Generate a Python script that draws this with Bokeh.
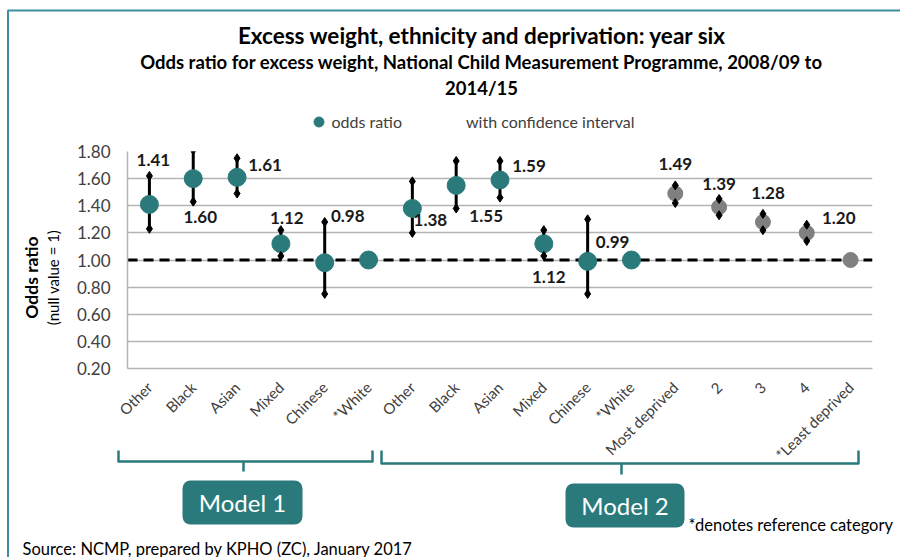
import math
import numpy as np
from bokeh.plotting import figure
from bokeh.models import (ColumnDataSource, Range1d, FixedTicker, NumeralTickFormatter,
                          Span, Label, BoxAnnotation, Legend, LegendItem, GridBox)
from bokeh.core.properties import value
from bokeh.embed import file_html
from bokeh.resources import INLINE

# ---------------- data ----------------
categories = ["Other", "Black", "Asian", "Mixed", "Chinese", "*White",
              "Other", "Black", "Asian", "Mixed", "Chinese", "*White",
              "Most deprived", "2", "3", "4", "*Least deprived"]
model = ["Model 1", "Model 1", "Model 1", "Model 1", "Model 1", "Model 1",
         "Model 2", "Model 2", "Model 2", "Model 2", "Model 2", "Model 2",
         "Model 2", "Model 2", "Model 2", "Model 2", "Model 2"]
variable = ["ethnicity"] * 12 + ["deprivation"] * 5
odds_ratio = [1.41, 1.60, 1.61, 1.12, 0.98, 1.00,
              1.38, 1.55, 1.59, 1.12, 0.99, 1.00,
              1.49, 1.39, 1.28, 1.20, 1.00]
ci_lower = [1.23, 1.43, 1.49, 1.03, 0.75, np.nan,
            1.20, 1.38, 1.46, 1.03, 0.75, np.nan,
            1.42, 1.33, 1.22, 1.14, np.nan]
ci_upper = [1.62, 1.81, 1.75, 1.22, 1.28, np.nan,
            1.58, 1.73, 1.73, 1.22, 1.30, np.nan,
            1.55, 1.45, 1.34, 1.26, np.nan]
y_ticks = [0.20, 0.40, 0.60, 0.80, 1.00, 1.20, 1.40, 1.60, 1.80]

# ---------------- styles ----------------
W, H = 900, 557
TEAL = "#2B7A7B"
GREY = "#808080"
BORDER = "#3D8DA2"
FONT = "Lato"
point_color = {"ethnicity": TEAL, "deprivation": GREY}
point_size = {"ethnicity": 18, "deprivation": 15}
# data-label placement (pixel offsets from the point centre)
label_dx = [4, 7, 28, 6, 23, 0, 18, 30, 29, 5, 25, 0, 0, 0, 5, 32, 0]
label_dy = [-44, 38, -12, -26, -47, 0, 12, 31, -14, 33, -19, 0, -30, -23, -29, -15, 0]

x = list(range(len(categories)))
src = ColumnDataSource(dict(
    x=x, y=odds_ratio, lo=ci_lower, hi=ci_upper, cat=categories, model=model,
    color=[point_color[v] for v in variable], size=[point_size[v] for v in variable],
))
has_ci = [not math.isnan(v) for v in ci_lower]
ci_src = ColumnDataSource(dict(
    x=[xi for xi, h in zip(x, has_ci) if h],
    y=[v for v, h in zip(odds_ratio, has_ci) if h],
    lo=[v for v, h in zip(ci_lower, has_ci) if h],
    hi=[v for v, h in zip(ci_upper, has_ci) if h],
    dx=[d for d, h in zip(label_dx, has_ci) if h],
    dy=[d for d, h in zip(label_dy, has_ci) if h],
    txt=["%.2f" % v for v, h in zip(odds_ratio, has_ci) if h],
))

# ================= chart figure =================
p = figure(width=W, height=H, output_backend="svg", toolbar_location=None,
           x_range=Range1d(-0.5, len(categories) - 0.5), y_range=Range1d(0.2, 1.8),
           min_border_left=127, min_border_right=W - 872, min_border_top=151,
           min_border_bottom=H - 368)
p.frame_align = False
p.outline_line_color = None
p.background_fill_color = "white"
p.border_fill_color = "white"

p.xgrid.grid_line_color = None
p.ygrid.grid_line_color = "#B4B4B4"
p.ygrid.grid_line_width = 1.5

p.yaxis.ticker = FixedTicker(ticks=y_ticks)
p.yaxis.formatter = NumeralTickFormatter(format="0.00")
p.yaxis.major_label_text_font = FONT
p.yaxis.major_label_text_font_size = "17px"
p.yaxis.major_label_text_color = "#404040"
p.yaxis.axis_line_color = "#B4B4B4"
p.yaxis.axis_line_width = 1.5
p.yaxis.major_tick_line_color = None
p.yaxis.minor_tick_line_color = None
p.yaxis.major_label_standoff = 11

p.xaxis.ticker = FixedTicker(ticks=x)
p.xaxis.major_label_overrides = {i: c for i, c in zip(x, categories)}
p.xaxis.major_label_orientation = math.pi / 4
p.xaxis.major_label_text_font = FONT
p.xaxis.major_label_text_font_size = "15px"
p.xaxis.major_label_text_color = "#404040"
p.xaxis.axis_line_color = "#B4B4B4"
p.xaxis.axis_line_width = 1.5
p.xaxis.major_tick_line_color = None
p.xaxis.minor_tick_line_color = None
p.xaxis.major_label_standoff = 10

ref = Span(location=1.0, dimension="width", line_color="black", line_width=3, line_dash="10 6")
ref.level = "underlay"
p.add_layout(ref)

p.segment(x0="x", y0="lo", x1="x", y1="hi", source=ci_src, line_color="black", line_width=3)
pts = p.scatter(x="x", y="y", source=src, size="size", fill_color="color", line_color="color")
p.scatter(x="x", y="hi", source=ci_src, marker="diamond", size=9, color="black")
p.scatter(x="x", y="lo", source=ci_src, marker="diamond", size=9, color="black")
p.text(x="x", y="y", text="txt", source=ci_src, x_offset="dx", y_offset="dy",
       text_align="center", text_baseline="middle", text_font=value(FONT),
       text_font_style="bold", text_font_size="17px", text_color="#1a1a1a")

# ================= decoration overlay (transparent, page pixel coordinates) =================
d = figure(width=W, height=H, output_backend="svg", toolbar_location=None,
           x_range=Range1d(0, W), y_range=Range1d(0, H), min_border=0,
           x_axis_location=None, y_axis_location=None)
d.frame_align = False
d.grid.visible = False
d.outline_line_color = None
d.background_fill_alpha = 0
d.border_fill_alpha = 0

def Y(py):
    return H - py

def lab(text, px, py, size, style="normal", align="center", color="black", angle=0):
    d.add_layout(Label(x=px, y=Y(py), text=text, text_font=FONT, text_font_size=size,
                       text_font_style=style, text_align=align, text_baseline="middle",
                       text_color=color, angle=angle))

lab("Excess weight, ethnicity and deprivation: year six", 482, 35, "22.5px", "bold")
lab("Odds ratio for excess weight, National Child Measurement Programme, 2008/09 to", 481, 61, "18.5px", "bold")
lab("2014/15", 481, 87, "18.5px", "bold")
lab("Odds ratio", 31, 277, "17.5px", "bold", angle=math.pi / 2)
lab("(null value = 1)", 52, 277, "15px", "normal", angle=math.pi / 2)
lab("*denotes reference category", 688, 524, "16.5px", align="left")
lab("Source: NCMP, prepared by KPHO (ZC), January 2017", 22, 548, "16.5px", align="left")

# legend (its marker source sits outside the visible range; only the legend swatch shows)
leg_pt = d.scatter(x=[-1000], y=[-1000], fill_color=TEAL, line_color=TEAL)
leg_ci = d.scatter(x=[-1000], y=[-1000], fill_alpha=0, line_alpha=0)
legend = Legend(items=[LegendItem(label="odds ratio", renderers=[leg_pt]),
                       LegendItem(label="with confidence interval", renderers=[leg_ci])],
                location=(305.5, Y(133.5)), orientation="horizontal", glyph_width=25,
                glyph_height=25, label_standoff=1, spacing=38, padding=0, margin=0,
                border_line_color=None, background_fill_alpha=0, label_text_font=FONT,
                label_text_font_size="16px", label_text_color="#404040")
d.add_layout(legend)

# brackets under the category groups
br_x, br_y = [], []
for (l, r, c, h, t) in [(118, 372, 243, 461, 471), (381, 858, 621, 463, 474)]:
    br_x += [[l, l, r, r], [c, c]]
    br_y += [[Y(450), Y(h), Y(h), Y(450)], [Y(h), Y(t)]]
d.multi_line(xs=br_x, ys=br_y, line_color=TEAL, line_width=2.5, line_join="round")

# model boxes
for (l, r, t, b, txt) in [(182, 302, 480, 524, "Model 1"), (565, 684, 483, 527, "Model 2")]:
    d.add_layout(BoxAnnotation(left=l, right=r, top=Y(t), bottom=Y(b), fill_color=TEAL,
                               fill_alpha=1, line_color=None, border_radius=8))
    lab(txt, (l + r) / 2, (t + b) / 2, "24px", color="white")

# outer border
d.multi_line(xs=[[7.5, 7.5, W]], ys=[[0, Y(10), Y(10)]], line_color=BORDER, line_width=2)

layout = GridBox(children=[(p, 0, 0), (d, 0, 0)])
open("out.html", "w").write(file_html(layout, INLINE))
